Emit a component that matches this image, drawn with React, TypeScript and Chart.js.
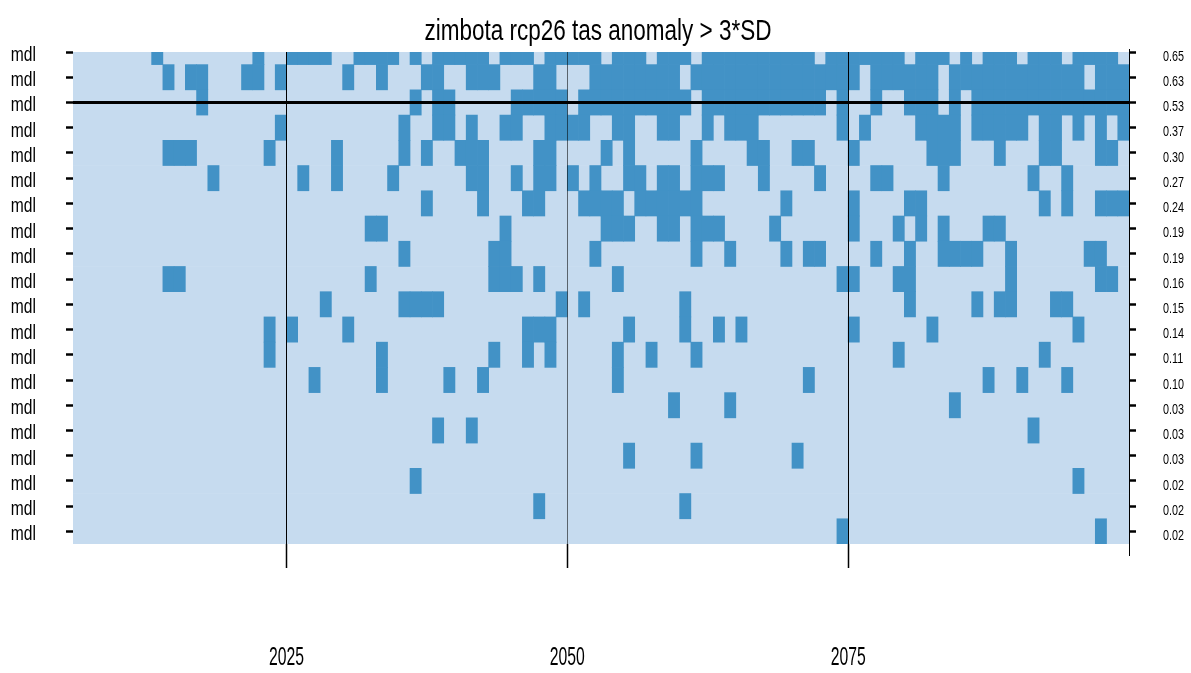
import React, { useEffect, useRef } from "react";
import { Chart, registerables } from "chart.js";

Chart.register(...registerables);

const FONT = "'Liberation Sans', Arial, sans-serif";

const title = "zimbota rcp26 tas anomaly > 3*SD";
const startYear = 2006;
const endYear = 2100;
const xTickYears = [2025, 2050, 2075];
const rowLabels = ["mdl", "mdl", "mdl", "mdl", "mdl", "mdl", "mdl", "mdl", "mdl", "mdl", "mdl", "mdl", "mdl", "mdl", "mdl", "mdl", "mdl", "mdl", "mdl", "mdl"];
const rowValues = ["0.65", "0.63", "0.53", "0.37", "0.30", "0.27", "0.24", "0.19", "0.19", "0.16", "0.15", "0.14", "0.11", "0.10", "0.03", "0.03", "0.03", "0.02", "0.02", "0.02"];
const thresholdRow = 2;

// years in which each model exceeds the threshold (one list per row, top to bottom)
const exceedYears: number[][] = [
  [2013, 2022, 2025, 2026, 2027, 2028, 2031, 2032, 2033, 2034, 2036, 2038, 2039, 2040, 2041, 2042, 2044, 2045, 2046, 2048, 2049, 2050, 2051, 2052, 2054, 2055, 2056, 2058, 2059, 2060, 2062, 2063, 2064, 2065, 2066, 2067, 2068, 2069, 2070, 2071, 2073, 2074, 2075, 2076, 2077, 2078, 2079, 2081, 2082, 2083, 2085, 2087, 2088, 2089, 2091, 2092, 2093, 2095, 2096, 2097, 2098],
  [2014, 2016, 2017, 2021, 2022, 2024, 2030, 2033, 2037, 2038, 2041, 2042, 2043, 2047, 2048, 2052, 2053, 2054, 2055, 2056, 2057, 2058, 2059, 2061, 2062, 2063, 2064, 2065, 2066, 2067, 2068, 2069, 2070, 2071, 2072, 2073, 2074, 2075, 2077, 2078, 2079, 2080, 2081, 2082, 2084, 2085, 2086, 2087, 2088, 2089, 2090, 2091, 2092, 2093, 2094, 2095, 2097, 2098, 2099],
  [2017, 2036, 2038, 2039, 2045, 2046, 2047, 2048, 2049, 2051, 2052, 2053, 2054, 2055, 2056, 2057, 2058, 2059, 2060, 2062, 2063, 2064, 2065, 2066, 2067, 2068, 2069, 2070, 2071, 2072, 2074, 2077, 2080, 2081, 2082, 2084, 2086, 2087, 2088, 2089, 2090, 2091, 2092, 2093, 2094, 2095, 2096, 2097, 2098, 2099],
  [2024, 2035, 2038, 2039, 2041, 2044, 2045, 2048, 2049, 2050, 2051, 2054, 2055, 2058, 2059, 2062, 2064, 2065, 2066, 2074, 2076, 2081, 2082, 2083, 2084, 2086, 2087, 2088, 2089, 2090, 2092, 2093, 2095, 2097, 2099],
  [2014, 2015, 2016, 2023, 2029, 2035, 2037, 2040, 2041, 2042, 2047, 2048, 2053, 2055, 2061, 2066, 2067, 2070, 2071, 2075, 2082, 2083, 2084, 2088, 2092, 2093, 2097, 2098],
  [2018, 2026, 2029, 2034, 2041, 2042, 2045, 2047, 2048, 2050, 2052, 2055, 2056, 2058, 2059, 2061, 2062, 2063, 2067, 2072, 2077, 2078, 2083, 2091, 2094],
  [2037, 2042, 2046, 2047, 2051, 2052, 2053, 2054, 2056, 2057, 2058, 2059, 2060, 2061, 2069, 2075, 2080, 2081, 2092, 2094, 2097, 2098, 2099],
  [2032, 2033, 2044, 2053, 2054, 2055, 2058, 2059, 2061, 2062, 2063, 2068, 2075, 2079, 2081, 2083, 2087, 2088],
  [2035, 2043, 2044, 2052, 2061, 2064, 2069, 2071, 2072, 2077, 2080, 2083, 2084, 2085, 2086, 2089, 2096, 2097],
  [2014, 2015, 2032, 2043, 2044, 2045, 2047, 2054, 2074, 2075, 2079, 2080, 2089, 2097, 2098],
  [2028, 2035, 2036, 2037, 2038, 2049, 2051, 2060, 2080, 2086, 2088, 2089, 2093, 2094],
  [2023, 2025, 2030, 2046, 2047, 2048, 2055, 2060, 2063, 2065, 2075, 2082, 2095],
  [2023, 2033, 2043, 2046, 2048, 2054, 2057, 2061, 2079, 2092],
  [2027, 2033, 2039, 2042, 2054, 2071, 2087, 2090, 2094],
  [2059, 2064, 2084],
  [2038, 2041, 2091],
  [2055, 2061, 2070],
  [2036, 2095],
  [2047, 2060],
  [2074, 2097],
];

const lightColor = "#c6dbef";
const darkColor = "#4292c6";

// draws the text in a narrow (horizontally condensed) style like the reference
function drawNarrow(ctx: CanvasRenderingContext2D, text: string, x: number, y: number, size: number, sx: number, align: CanvasTextAlign) {
  ctx.save();
  ctx.font = `${size}px ${FONT}`;
  ctx.fillStyle = "#000";
  ctx.textAlign = align;
  ctx.textBaseline = "alphabetic";
  ctx.translate(x, y);
  ctx.scale(sx, 1);
  ctx.fillText(text, 0, 0);
  ctx.restore();
}

const narrowText = {
  id: "narrowText",
  afterDraw(chart: any) {
    const { ctx, chartArea, scales } = chart;
    // title
    drawNarrow(ctx, title, (chartArea.left + chartArea.right) / 2 - 3, chartArea.top - 12.5, 30, 0.75, "center");
    // row labels (left) and values (right)
    rowLabels.forEach((lab, i) => {
      const py = scales.y.getPixelForValue(i);
      drawNarrow(ctx, lab, scales.y.right - 37, py + 9, 20, 0.78, "left" === "left" ? "right" : "right");
      drawNarrow(ctx, rowValues[i], scales.y2.left + 34, py + 8.7, 15, 0.72, "left");
    });
    // x tick labels
    xTickYears.forEach((v) => {
      drawNarrow(ctx, String(v), scales.x.getPixelForValue(v), scales.x.top + 121, 25, 0.63, "center");
    });
  },
};

const extendRightAxis = {
  id: "extendRightAxis",
  afterDraw(chart: any) {
    const s = chart.scales.y2;
    const { ctx, chartArea } = chart;
    ctx.save();
    ctx.strokeStyle = "#000";
    ctx.lineWidth = 1;
    ctx.beginPath();
    ctx.moveTo(s.left + 0.5, chartArea.top - 3);
    ctx.lineTo(s.left + 0.5, chartArea.bottom + 12);
    ctx.stroke();
    ctx.restore();
  },
};

export default function App() {
  const ref = useRef<HTMLCanvasElement | null>(null);

  useEffect(() => {
    if (!ref.current) return;
    const bgData = rowLabels.map((_, r) => ({ x: [startYear, endYear], y: r }));
    const cellData = exceedYears.flatMap((yrs, r) => yrs.map((yr) => ({ x: [yr, yr + 1], y: r })));
    const lineData = [
      { x: startYear, y: thresholdRow },
      { x: endYear, y: thresholdRow },
    ];
    const rowTicks = (s: any) => {
      s.ticks = rowLabels.map((_, i) => ({ value: i }));
    };

    const chart = new Chart(ref.current, {
      type: "bar",
      data: {
        datasets: [
          {
            type: "line",
            data: lineData,
            borderColor: "#000",
            borderWidth: 3,
            pointRadius: 0,
            order: 1,
          } as any,
          {
            data: cellData as any,
            backgroundColor: darkColor,
            borderWidth: 0,
            order: 2,
          },
          {
            data: bgData as any,
            backgroundColor: lightColor,
            borderWidth: 0,
            order: 3,
          },
        ],
      },
      options: {
        indexAxis: "y",
        animation: false,
        responsive: false,
        events: [],
        layout: { padding: { top: 52, left: 0, right: 0, bottom: 0 } },
        datasets: {
          bar: { grouped: false, barPercentage: 1, categoryPercentage: 1 } as any,
        },
        plugins: {
          legend: { display: false },
          tooltip: { enabled: false },
          title: { display: false, text: title },
        },
        scales: {
          x: {
            type: "linear",
            position: "bottom",
            min: startYear,
            max: endYear,
            offset: false,
            afterBuildTicks: (s: any) => {
              s.ticks = xTickYears.map((v) => ({ value: v }));
            },
            afterFit: (s: any) => {
              s.height = 129;
            },
            ticks: { display: false },
            grid: {
              z: 1,
              offset: false,
              drawOnChartArea: true,
              color: (c: any) => (c.tick && c.tick.value === 2050 ? "rgba(0,0,0,0.55)" : "#000"),
              lineWidth: 1,
              tickLength: 24,
              tickColor: "#000",
              tickWidth: 1.5,
            },
            border: { display: false },
          },
          y: {
            type: "linear",
            position: "left",
            reverse: true,
            offset: false,
            min: 0,
            max: rowLabels.length - 0.5,
            afterBuildTicks: rowTicks,
            afterFit: (s: any) => {
              s.width = 73;
            },
            ticks: { display: false },
            grid: { offset: false, drawOnChartArea: false, tickLength: 7, tickColor: "#000", tickWidth: 2.5 },
            border: { display: false },
          },
          y2: {
            type: "linear",
            position: "right",
            reverse: true,
            offset: false,
            min: 0,
            max: rowLabels.length - 0.5,
            afterBuildTicks: rowTicks,
            afterFit: (s: any) => {
              s.width = 62;
            },
            ticks: { display: false },
            grid: { offset: false, drawOnChartArea: false, tickLength: 7, tickColor: "#000", tickWidth: 2.5 },
            border: { display: false },
          },
        },
      } as any,
      plugins: [extendRightAxis, narrowText],
    });
    return () => chart.destroy();
  }, []);

  return (
    <div style={{ position: "fixed", left: 0, top: 0, width: 1191, height: 673, background: "#fff" }}>
      <canvas ref={ref} width={1191} height={673} style={{ display: "block" }} />
    </div>
  );
}
